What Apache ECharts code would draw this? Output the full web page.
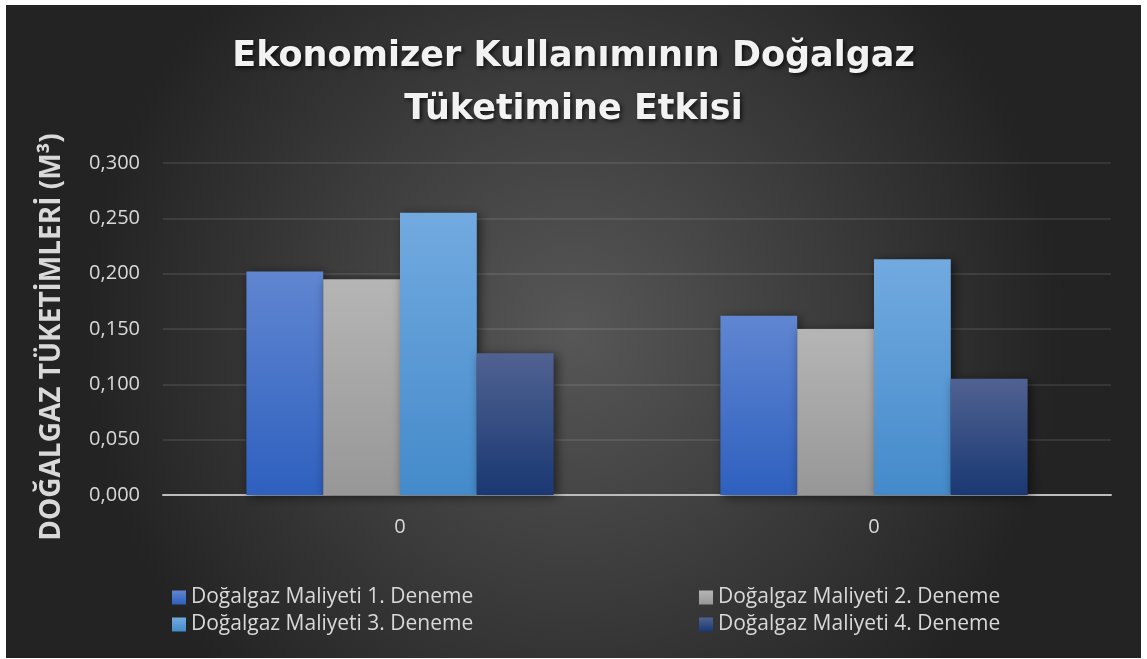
<!DOCTYPE html>
<html>
<head>
<meta charset="utf-8">
<script src="https://cdn.jsdelivr.net/npm/echarts@6/dist/echarts.min.js"></script>
<style>
  html, body { margin: 0; padding: 0; background: #ffffff; }
  #chart { position: absolute; left: 6px; top: 5px; width: 1135px; height: 653px; }
</style>
</head>
<body>
<div id="chart"></div>
<script>
// Category labels along the x axis
const categories = ['0', '0'];
// Series names shown in the legend
const seriesNames = [
  'Doğalgaz Maliyeti 1. Deneme',
  'Doğalgaz Maliyeti 2. Deneme',
  'Doğalgaz Maliyeti 3. Deneme',
  'Doğalgaz Maliyeti 4. Deneme'
];
// Gas consumption values (m³) per trial
const deneme1 = [0.202, 0.162];
const deneme2 = [0.195, 0.150];
const deneme3 = [0.255, 0.213];
const deneme4 = [0.128, 0.105];

const values = [deneme1, deneme2, deneme3, deneme4];

// Top/bottom gradient colours for each series
const barColors = [
  ['#6086d1', '#2e60bf'],
  ['#b5b5b5', '#979797'],
  ['#72aae0', '#448aca'],
  ['#506291', '#1a3873']
];

const FONT = '"Open Sans", sans-serif';
const chart = echarts.init(document.getElementById('chart'), null, { renderer: 'canvas' });

const grad = (c) => new echarts.graphic.LinearGradient(0, 0, 0, 1, [
  { offset: 0, color: c[0] }, { offset: 1, color: c[1] }
]);

const series = values.map((v, i) => ({
  name: seriesNames[i],
  type: 'bar',
  data: v,
  barWidth: '16.2%',
  barGap: '0%',
  itemStyle: {
    color: grad(barColors[i]),
    shadowColor: 'rgba(0,0,0,0.55)',
    shadowBlur: 10,
    shadowOffsetX: 3,
    shadowOffsetY: 2
  }
}));

const legendText = { color: '#d9d9d9', fontFamily: FONT, fontSize: 21, lineHeight: 20 };

const legendBase = {
  orient: 'vertical',
  top: 577,
  itemWidth: 14,
  itemHeight: 14,
  itemGap: 6,
  icon: 'rect',
  textStyle: legendText,
  selectedMode: false
};

chart.setOption({
  backgroundColor: new echarts.graphic.RadialGradient(0.5, 0.5, 0.75, [
    { offset: 0, color: '#575757' },
    { offset: 1, color: '#232323' }
  ]),
  animation: false,
  title: {
    text: 'Ekonomizer Kullanımının Doğalgaz\nTüketimine Etkisi',
    left: 'center',
    top: 20,
    textStyle: {
      color: '#f2f2f2',
      fontFamily: '"DejaVu Sans", sans-serif',
      fontWeight: 'bold',
      fontSize: 35,
      lineHeight: 53,
      textShadowColor: 'rgba(0,0,0,0.7)',
      textShadowBlur: 4,
      textShadowOffsetX: 2,
      textShadowOffsetY: 2
    }
  },
  legend: [
    Object.assign({ data: [seriesNames[0], seriesNames[2]], left: 161 }, legendBase),
    Object.assign({ data: [seriesNames[1], seriesNames[3]], left: 688 }, legendBase)
  ],
  grid: { left: 157, right: 30, top: 158, bottom: 163 },
  xAxis: {
    type: 'category',
    data: categories,
    axisLine: { lineStyle: { color: '#bdbdbd', width: 2 } },
    axisTick: { show: false },
    axisLabel: { color: '#d9d9d9', fontFamily: FONT, fontSize: 20, margin: 22 }
  },
  yAxis: {
    type: 'value',
    min: 0,
    max: 0.3,
    interval: 0.05,
    name: 'DOĞALGAZ TÜKETİMLERİ (M³)',
    nameLocation: 'middle',
    nameGap: 97,
    nameRotate: 90,
    nameTextStyle: {
      color: '#d9d9d9', fontFamily: FONT, fontWeight: 'bold', fontSize: 28,
      padding: [0, 16, 0, 0]
    },
    axisLine: { show: false },
    axisTick: { show: false },
    axisLabel: {
      color: '#d9d9d9', fontFamily: FONT, fontSize: 20, margin: 23,
      formatter: (v) => v.toFixed(3).replace('.', ',')
    },
    splitLine: { lineStyle: { color: 'rgba(255,255,255,0.09)', width: 2 } }
  },
  series: series
});
</script>
</body>
</html>
